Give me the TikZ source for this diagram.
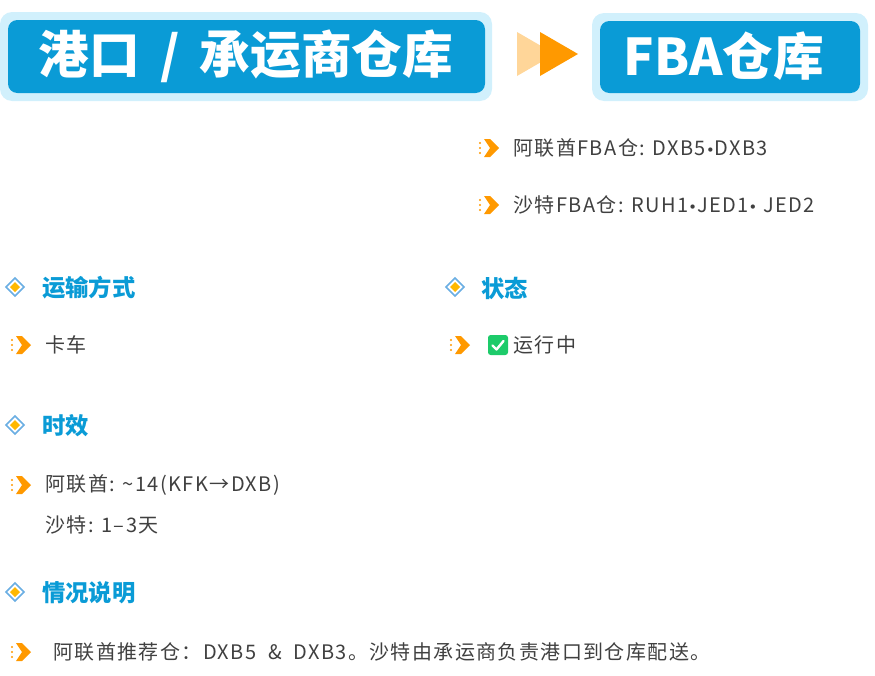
\documentclass[tikz,border=0pt]{standalone}
\usepackage{fontspec}
\newfontfamily\cjk{Noto Sans CJK SC}
\newfontfamily\cjkb[LetterSpace=7]{Noto Sans CJK SC}
\newfontfamily\dvu{DejaVu Sans}
\begin{document}
\begin{tikzpicture}[x=0.75pt,y=-0.75pt,
  outerbox/.style={fill=cyan!18,rounded corners=9pt},
  innerbox/.style={fill=hblue,rounded corners=7pt},
  htext/.style={text=white,font=\cjk\bfseries\fontsize{38}{42}\selectfont,anchor=center},
  body/.style={text=tgrey,font=\cjkb\fontsize{15}{18}\selectfont,anchor=west,inner sep=0},
  head/.style={text=hblue,font=\cjk\bfseries\fontsize{17.5}{20}\selectfont,anchor=west,inner sep=0}]
\definecolor{hblue}{HTML}{0A9BD6}
\definecolor{tgrey}{HTML}{404040}
\definecolor{orng}{HTML}{FF9900}
\definecolor{lorng}{HTML}{FFD699}
\definecolor{ckgreen}{HTML}{1DCB6A}
\useasboundingbox (0,0) rectangle (875,675);
\newcommand\bul[2]{%
  \foreach \d in {-5,0,5} \fill[orng] (#1,#2+\d) circle (1.1);
  \fill[orng] (#1+4,#2-9) -- (#1+10,#2-9) -- (#1+19,#2) -- (#1+10,#2+9) -- (#1+4,#2+9) -- (#1+10,#2) -- cycle;}
\newcommand\dia[2]{%
  \draw[cyan!70!blue!60,line width=1.3pt,fill=white] (#1,#2-9) -- (#1+9,#2) -- (#1,#2+9) -- (#1-9,#2) -- cycle;
  \fill[orng!70!yellow] (#1,#2-5) -- (#1+5,#2) -- (#1,#2+5) -- (#1-5,#2) -- cycle;}
\newcommand\bt{{\dvu\fontsize{11}{12}\selectfont•}}
% header
\fill[outerbox] (0,12) rectangle (492,101);
\fill[innerbox] (8,20) rectangle (485,93);
\node[htext] (h1) at (246,56) {港口\hspace{0.4em}/\hspace{0.4em}承运商仓库};
\fill[outerbox] (592,13) rectangle (868,101);
\fill[innerbox] (600,21) rectangle (860,93);
\node[htext] (h2) at (724,56) {FBA仓库};
\fill[lorng] (517,32) -- (555,54) -- (517,76) -- cycle;
\fill[orng] (540,32) -- (578,54) -- (540,76) -- cycle;
% FBA list
\bul{480}{148}\node[body] (f1) at (513,148) {阿联酋FBA仓: DXB5\bt DXB3};
\bul{480}{205}\node[body] (f2) at (513,205) {沙特FBA仓: RUH1\bt JED1\bt\ JED2};
% sections
\dia{15}{287}\node[head] (s1) at (42,288) {运输方式};
\dia{455}{287}\node[head] (s2) at (481,288) {状态};
\bul{12}{345}\node[body] (t1) at (45,345) {卡车};
\bul{451}{345}
\fill[ckgreen,rounded corners=2pt] (488,335) rectangle (508,355);
\draw[white,line width=1.8pt,line cap=round,line join=round] (492.5,345.5) -- (496.5,349.5) -- (503.5,341);
\node[body] (t2) at (513,345) {运行中};
\dia{15}{425}\node[head] (s3) at (42,426) {时效};
\bul{12}{485}\node[body] (t3) at (45,485) {阿联酋: \textasciitilde 14(KFK→DXB)};
\node[body] (t4) at (45,525) {沙特: 1–3天};
\dia{15}{592}\node[head] (s4) at (42,593) {情况说明};
\bul{12}{652}\node[body] (t5) at (53,652) {阿联酋推荐仓：DXB5 \ \& \ DXB3。沙特由承运商负责港口到仓库配送。};
\end{tikzpicture}
\end{document}
